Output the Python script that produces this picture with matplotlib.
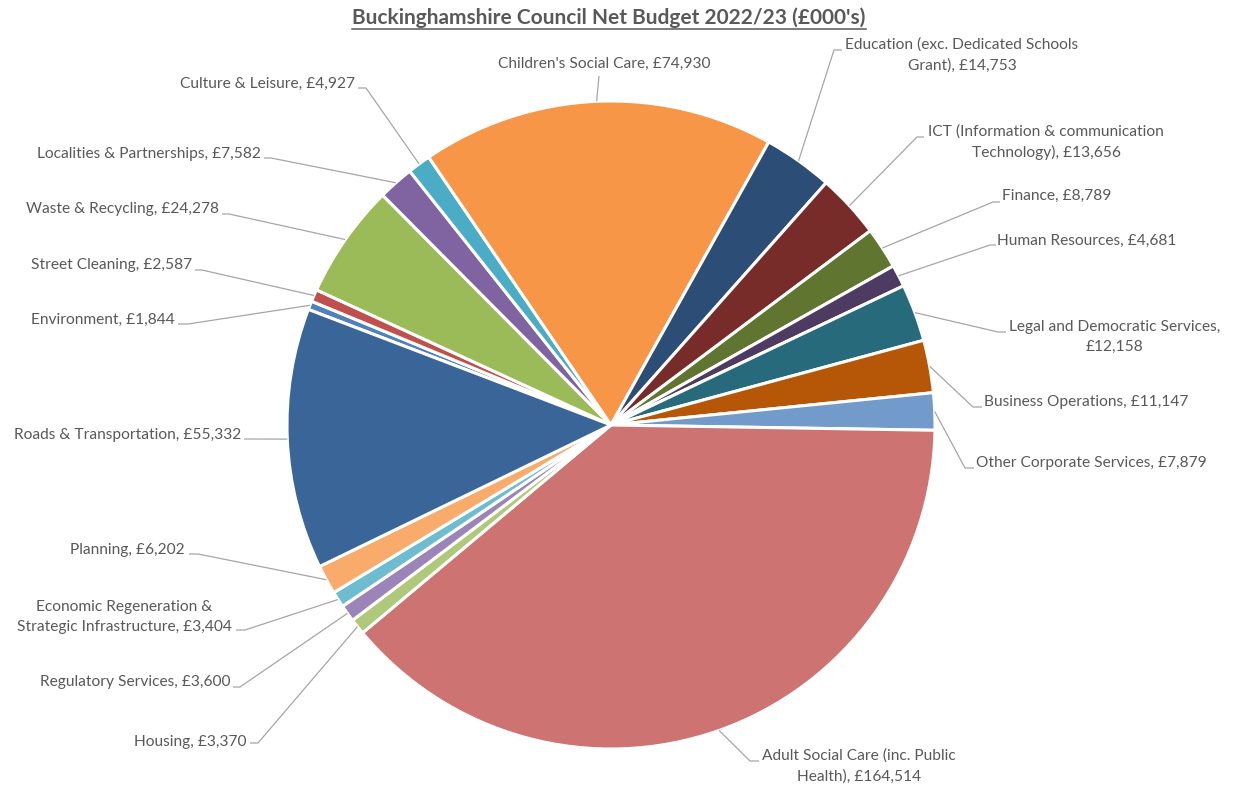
import numpy as np
import matplotlib
matplotlib.use("Agg")
import matplotlib.pyplot as plt
from matplotlib.lines import Line2D

plt.rcParams['font.family'] = ['Lato', 'DejaVu Sans']

# ---------------- data (Excel order, clockwise) ----------------
categories = [
    "Environment", "Street Cleaning", "Waste & Recycling",
    "Localities & Partnerships", "Culture & Leisure", "Children's Social Care",
    "Education (exc. Dedicated Schools\nGrant)", "ICT (Information & communication\nTechnology)",
    "Finance", "Human Resources", "Legal and Democratic Services,\n",
    "Business Operations", "Other Corporate Services",
    "Adult Social Care (inc. Public\nHealth)", "Housing", "Regulatory Services",
    "Economic Regeneration &\nStrategic Infrastructure", "Planning",
    "Roads & Transportation",
]
values = [1844, 2587, 24278, 7582, 4927, 74930, 14753, 13656, 8789, 4681,
          12158, 11147, 7879, 164514, 3370, 3600, 3404, 6202, 55332]
colors = ["#4F81BD", "#C0504D", "#9BBB59", "#8064A2", "#4BACC6", "#F79646",
          "#2C4D75", "#772C2A", "#5F7530", "#4D3B62", "#276A7C", "#B65708",
          "#729ACA", "#CD7371", "#AFC97A", "#9B85B8", "#6DBCD0", "#F9AB6B",
          "#3A6599"]
title = "Buckinghamshire Council Net Budget 2022/23 (£000's)"

# ---------------- layout (pixel coords, origin top-left) ----------------
W, H = 1236, 789
cx, cy, R = 611, 425, 324
# text x, text y, ha, knee x, knee y, end x
layout = [
    (175, 320, 'right', 188, 324, 178),
    (192, 265, 'right', 202, 270, 195),
    (219, 209, 'right', 229, 214, 222),
    (261, 154, 'right', 271, 158, 264),
    (355, 84, 'right', 366, 88, 358),
    (604, 64, 'center', 599, 76, 599),
    (962, 55, 'center', 834, 50, 842),
    (1046, 142, 'center', 917, 137, 924),
    (1002, 196, 'left', 993, 202, 1000),
    (997, 241, 'left', 990, 245, 996),
    (1115, 337, 'center', 998, 332, 1006),
    (984, 402, 'left', 973, 407, 982),
    (976, 463, 'left', 965, 468, 974),
    (859, 766, 'center', 750, 761, 759),
    (247, 742, 'right', 258, 743, 250),
    (230, 682, 'right', 240, 687, 233),
    (124, 617, 'center', 245, 630, 236),
    (185, 550, 'right', 198, 554, 189),
    (241, 435, 'right', 250, 439, 244),
]

txt_color = "#595959"
line_color = "#A6A6A6"

fig = plt.figure(figsize=(W / 100, H / 100), dpi=100)
ax = fig.add_axes([0, 0, 1, 1])

start = 159.1
wedges, _ = ax.pie(values, colors=colors, startangle=start, counterclock=False,
                   radius=R, center=(cx, H - cy),
                   wedgeprops=dict(edgecolor='white', linewidth=2.2))
ax.set_xlim(0, W)
ax.set_ylim(0, H)
ax.set_aspect('equal')
ax.axis('off')


def fmt(v):
    return "£{:,}".format(v)


for w, name, v, lay in zip(wedges, categories, values, layout):
    tx, ty, ha, kx, ky, ex = lay
    mid = np.deg2rad((w.theta1 + w.theta2) / 2)
    sx = cx + R * np.cos(mid)
    sy = (H - cy) + R * np.sin(mid)
    if name.endswith(",\n"):
        label = name + fmt(v)
    else:
        label = name + ", " + fmt(v)
    ax.plot([sx, kx, ex], [sy, H - ky, H - ky], color=line_color, lw=0.9,
            solid_capstyle='butt', zorder=1)
    ax.text(tx, H - ty, label, ha=ha, va='center', multialignment='center',
            fontsize=11.2, color=txt_color, linespacing=1.55)

t = fig.text(609 / W, 1 - 18 / H, title, ha='center', va='center',
             fontsize=15, fontweight='bold', color=txt_color)
fig.canvas.draw()
bb = t.get_window_extent()
uy = bb.y0 - 1
fig.add_artist(Line2D([bb.x0 / W, bb.x1 / W], [uy / H, uy / H],
                      transform=fig.transFigure, color=txt_color, lw=1.1))

fig.savefig("out.png", dpi=100, facecolor='white')
